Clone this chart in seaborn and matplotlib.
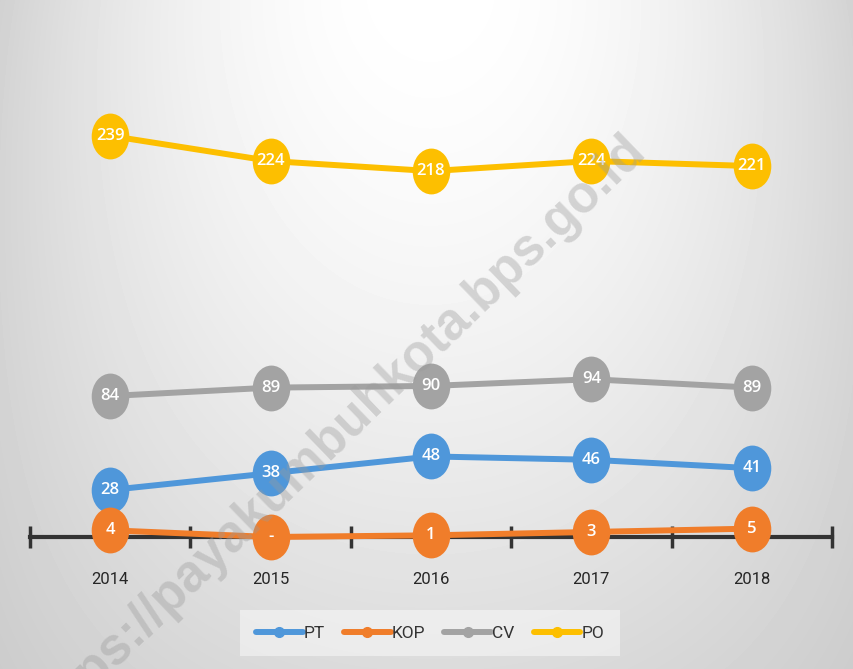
import numpy as np
import pandas as pd
import seaborn as sns
import matplotlib.pyplot as plt
from matplotlib.path import Path
from matplotlib.transforms import Affine2D

# data
years = ["2014", "2015", "2016", "2017", "2018"]
pt = [28, 38, 48, 46, 41]
kop = [4, 0, 1, 3, 5]
cv = [84, 89, 90, 94, 89]
po = [239, 224, 218, 224, 221]
kop_labels = ["4", "-", "1", "3", "5"]

series = {"PT": pt, "KOP": kop, "CV": cv, "PO": po}
labels = {"PT": [str(v) for v in pt], "KOP": kop_labels,
          "CV": [str(v) for v in cv], "PO": [str(v) for v in po]}
colors = {"PT": "#4F97DA", "KOP": "#F07D2A", "CV": "#A3A3A3", "PO": "#FDBF00"}

df = pd.DataFrame([(k, y, v) for k, vals in series.items() for y, v in zip(years, vals)],
                  columns=["jenis", "tahun", "jumlah"])
df["pos"] = df["tahun"].map({y: i for i, y in enumerate(years)})

sns.set_theme(style="white")
plt.rcParams["font.family"] = ["Open Sans", "DejaVu Sans"]

W, H = 854, 669
fig = plt.figure(figsize=(W / 100, H / 100), dpi=100)

# soft grey background, white at top centre
bg = fig.add_axes([0, 0, 1, 1], zorder=-10)
yy, xx = np.mgrid[0:H, 0:W]
dx = (xx - 430) / 430.0
dy = yy / float(H)
img = 1 - 0.18 * dx ** 2 - 0.14 * dy ** 1.5 + 0.12 * dx ** 2 * dy
bg.imshow(img, cmap="gray", vmin=0, vmax=1, aspect="auto", interpolation="bilinear")
bg.axis("off")

ax = fig.add_axes([30 / W, (H - 537) / H, 802 / W, (537 - 15) / H])
ax.patch.set_alpha(0)

ellipse = Path.unit_circle().transformed(Affine2D().scale(0.82, 1.0))

sns.lineplot(data=df, x="pos", y="jumlah", hue="jenis", palette=colors,
             linewidth=4.3, legend=False, ax=ax, zorder=3)
for line in ax.lines:
    line.set_clip_on(False)

for name, vals in series.items():
    ax.plot(range(len(years)), vals, linestyle="none", marker=ellipse,
            markersize=33, color=colors[name], markeredgewidth=0,
            clip_on=False, zorder=4)
    for i, (v, lab) in enumerate(zip(vals, labels[name])):
        ax.text(i, v, lab, color="white", fontsize=12, ha="center",
                va="center", zorder=5, fontweight="semibold")

ax.set_xlim(-0.5, len(years) - 0.5)
ax.set_ylim(0, 311)
ax.set_yticks([])
ax.set_xticks(range(len(years)))
ax.set_xticklabels(years, fontsize=12, color="#262626", family="Roboto")
ax.set_xticks(np.arange(-0.5, len(years)), minor=True)
ax.tick_params(axis="x", which="major", bottom=False, pad=19)
ax.tick_params(axis="x", which="minor", bottom=True, length=16, width=2.5,
               direction="inout", color="#333333")
for s in ["top", "left", "right"]:
    ax.spines[s].set_visible(False)
ax.spines["bottom"].set_color("#333333")
ax.spines["bottom"].set_linewidth(3)
ax.spines["bottom"].set_zorder(2)
ax.set_xlabel("")
ax.set_ylabel("")

# legend
handles = [plt.Line2D([], [], color=colors[n], linewidth=4.3, marker="o",
                      markersize=7) for n in series]
leg = fig.legend(handles, list(series), loc="center", bbox_to_anchor=(430 / W, 1 - 633 / H),
                 ncol=4, frameon=True, handlelength=2.7,
                 handletextpad=0.05, columnspacing=1.1, borderpad=0.9,
                 prop={"family": "Roboto", "size": 12.5})
leg.get_frame().set_facecolor("white")
leg.get_frame().set_alpha(0.45)
leg.get_frame().set_edgecolor("none")
leg.get_frame().set_boxstyle("square", pad=0)
for t in leg.get_texts():
    t.set_color("#333333")

# watermark
fig.text(336 / W, 1 - 434 / H, "https://payakumbuhkota.bps.go.id", rotation=44,
         ha="center", va="center", fontsize=37, fontweight="bold",
         family="Liberation Sans", color="#9a9a9a", alpha=0.38, zorder=20)

fig.savefig("out.png", dpi=100)
